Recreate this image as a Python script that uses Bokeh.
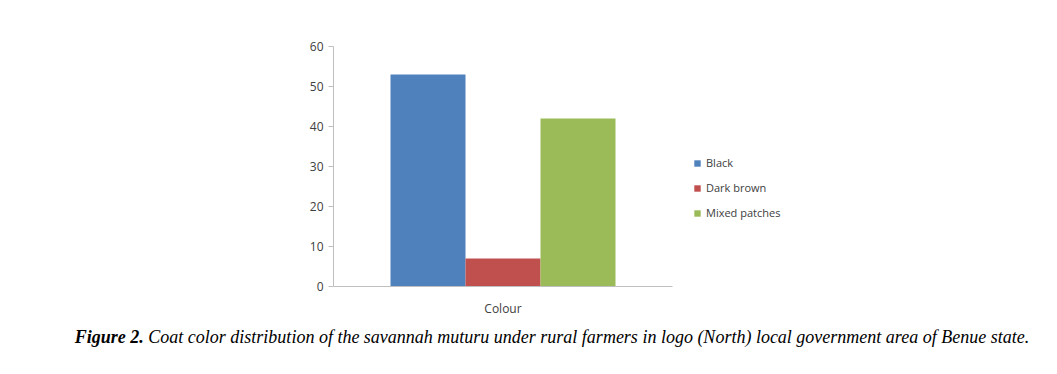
from bokeh.plotting import figure
from bokeh.models import FactorRange, Legend, LegendItem, Div, Range1d
from bokeh.transform import dodge
from bokeh.layouts import column
from bokeh.embed import file_html
from bokeh.resources import INLINE

category = ["Colour"]
series = ["Black", "Dark brown", "Mixed patches"]
values = [53, 7, 42]
colors = ["#4F81BD", "#C0504D", "#9BBB59"]
offsets = [-0.25, 0.0, 0.25]
y_ticks = [0, 10, 20, 30, 40, 50, 60]
caption_bold = "Figure 2."
caption_rest = " Coat color distribution of the savannah muturu under rural farmers in logo (North) local government area of Benue state."

p = figure(frame_width=339, frame_height=240, output_backend="svg", toolbar_location=None,
           x_range=FactorRange(factors=category, range_padding=0.13),
           y_range=Range1d(0, 60),
           min_border_left=333, min_border_right=0, min_border_top=46, min_border_bottom=40)
p.outline_line_color = None
p.xgrid.grid_line_color = None
p.ygrid.grid_line_color = None

items = []
for name, val, col, off in zip(series, values, colors, offsets):
    r = p.vbar(x=dodge("x", off, range=p.x_range), top="top", width=0.25,
               source=dict(x=category, top=[val]), fill_color=col, line_color=None)
    items.append(LegendItem(label=name, renderers=[r]))

p.yaxis.ticker = y_ticks
p.yaxis.axis_line_color = "#BFBFBF"
p.yaxis.major_tick_line_color = "#BFBFBF"
p.yaxis.major_tick_out = 5
p.yaxis.major_tick_in = 0
p.yaxis.minor_tick_line_color = None
p.yaxis.major_label_text_font = "Open Sans"
p.yaxis.major_label_text_font_size = "12px"
p.yaxis.major_label_text_color = "#404040"
p.yaxis.major_label_standoff = 5

p.xaxis.axis_line_color = "#BFBFBF"
p.xaxis.major_tick_line_color = None
p.xaxis.major_tick_out = 0
p.xaxis.major_tick_in = 0
p.xaxis.minor_tick_line_color = None
p.xaxis.major_label_text_font = "Open Sans"
p.xaxis.major_label_text_font_size = "12px"
p.xaxis.major_label_text_color = "#404040"
p.xaxis.major_label_standoff = 13

legend = Legend(items=items, location=(21, 66), padding=0, margin=0,
                glyph_width=8, glyph_height=8, label_height=10, spacing=10,
                label_standoff=5, border_line_color=None, background_fill_alpha=0,
                label_text_font="Open Sans", label_text_font_size="11px",
                label_text_color="#404040")
p.add_layout(legend, "right")

div = Div(text=('<div style="box-sizing:border-box;width:1041px;padding-left:53px;text-align:center;'
                'font-family:\'Liberation Serif\';white-space:nowrap;'
                'font-size:18px;font-style:italic;color:#000;line-height:22px;position:relative;top:-5px;">'
                '<b>' + caption_bold + '</b>' + caption_rest + '</div>'),
          width=1041, height=40)

layout = column(p, div, spacing=0)
open("out.html", "w").write(file_html(layout, INLINE))
